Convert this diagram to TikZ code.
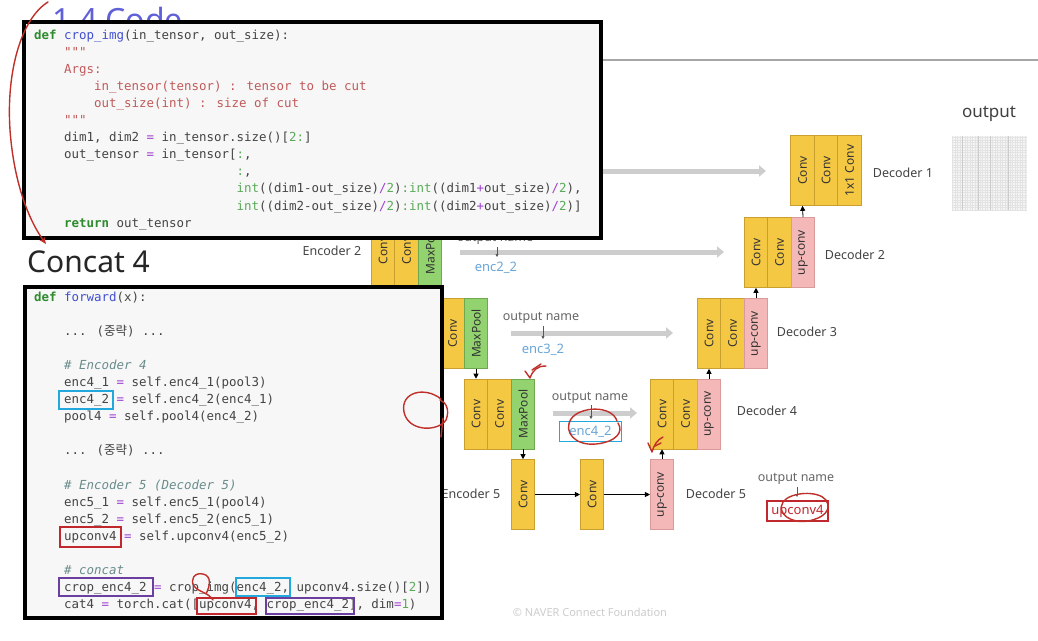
\documentclass[tikz,border=0pt]{standalone}
\usepackage{fontspec}
\usepackage{graphicx}
\setmainfont{Noto Sans}
\newfontfamily\codefont{DejaVu Sans Mono}
\newfontfamily\krfont{Noto Sans CJK KR}
\usetikzlibrary{arrows.meta}
\definecolor{kwc}{HTML}{2E8B2E}
\definecolor{fnc}{HTML}{3F4FD0}
\definecolor{stc}{HTML}{C05A5A}
\definecolor{nmc}{HTML}{5AAA5A}
\definecolor{opc}{HTML}{A040D0}
\definecolor{cmc}{HTML}{6A8C8C}
\definecolor{codetx}{HTML}{444444}
\definecolor{yel}{HTML}{F5C843}
\definecolor{ybd}{HTML}{C9A030}
\definecolor{grn}{HTML}{93D36F}
\definecolor{gbd}{HTML}{6FA84F}
\definecolor{pnk}{HTML}{F4B8B8}
\definecolor{pbd}{HTML}{D99A9A}
\definecolor{skipc}{HTML}{CDCDCD}
\definecolor{lbl}{HTML}{444444}
\definecolor{bluet}{HTML}{6AA6D8}
\definecolor{hcyan}{HTML}{22A8DC}
\definecolor{hred}{HTML}{C0282E}
\definecolor{hpur}{HTML}{6A3FA0}
\definecolor{penred}{HTML}{C0302A}
\definecolor{titlec}{HTML}{6060D8}
\newcommand\cdkw[1]{\textcolor{kwc}{\bfseries #1}}
\newcommand\cdfn[1]{\textcolor{fnc}{#1}}
\newcommand\cdst[1]{\textcolor{stc}{#1}}
\newcommand\cdnm[1]{\textcolor{nmc}{#1}}
\newcommand\cdbi[1]{\textcolor{nmc}{#1}}
\newcommand\cdop[1]{\textcolor{opc}{#1}}
\newcommand\cdcm[1]{\textcolor{cmc}{\itshape #1}}
\newcommand\vtxt[1]{\rotatebox{90}{#1}}
\tikzset{
  codetxt/.style={anchor=base west, inner sep=0pt, text=codetx, font=\codefont\fontsize{12.45}{14}\selectfont},
  codebox/.style={draw=black, line width=3.5pt, fill=white!97!black},
  yb/.style={draw=ybd, fill=yel, line width=0.6pt, minimum width=23.5pt, minimum height=70pt, inner sep=0pt, text=black!80, font=\fontsize{12}{14}\selectfont},
  gb/.style={yb, draw=gbd, fill=grn},
  pb/.style={yb, draw=pbd, fill=pnk},
  lab/.style={inner sep=0pt, text=lbl, font=\fontsize{12.5}{14}\selectfont},
  oname/.style={inner sep=0pt, text=black!60, font=\fontsize{12.5}{14}\selectfont},
  encname/.style={inner sep=0pt, text=bluet, font=\fontsize{13}{14}\selectfont},
  skiparr/.style={draw=skipc, line width=5pt, -{Triangle[width=11pt,length=7pt]}},
  blkarr/.style={draw=black, line width=0.8pt, -{Triangle[width=5pt,length=5pt]}},
  tick/.style={draw=black!65, line width=0.6pt, -{Triangle[width=3pt,length=3pt]}},
  hbox/.style={line width=1.6pt},
  redpen/.style={draw=penred, line width=1.4pt, line cap=round, line join=round},
}
\begin{document}
\begin{tikzpicture}[x=1pt,y=-1pt]
\useasboundingbox (0,0) rectangle (1038,640);
\fill[white] (0,0) rectangle (1038,640);
% header line and title
\draw[black!35, line width=1.2pt] (590,60) -- (1038,60);
\node[anchor=base west, inner sep=0pt, text=titlec, font=\fontsize{32}{36}\selectfont] (title) at (52,31) {1.4 Code};

% skip connections
\coordinate (s1a) at (590,171); \coordinate (s1b) at (766,171);
\coordinate (s2a) at (460,252); \coordinate (s2b) at (724,252);
\coordinate (s3a) at (511,333); \coordinate (s3b) at (673,333);
\coordinate (s4a) at (553,413); \coordinate (s4b) at (637,413);
\draw[skiparr] (s1a) -- (s1b);
\draw[skiparr] (s2a) -- (s2b);
\draw[skiparr] (s3a) -- (s3b);
\draw[skiparr] (s4a) -- (s4b);

% encoder 2
\node[yb] (e2a) at (383,250) {\vtxt{Conv}};
\node[yb] (e2b) at (406.5,250) {\vtxt{Conv}};
\node[gb] (e2c) at (430,250) {\vtxt{MaxPool}};
% encoder 3
\node[yb] (e3a) at (429,333.5) {\vtxt{Conv}};
\node[yb] (e3b) at (452.5,333.5) {\vtxt{Conv}};
\node[gb] (e3c) at (476,333.5) {\vtxt{MaxPool}};
% encoder 4
\node[yb] (e4a) at (476,414) {\vtxt{Conv}};
\node[yb] (e4b) at (499.5,414) {\vtxt{Conv}};
\node[gb] (e4c) at (523,414) {\vtxt{MaxPool}};
% encoder 5
\node[yb] (e5a) at (523,494.5) {\vtxt{Conv}};
\node[yb] (e5b) at (592,494.5) {\vtxt{Conv}};
\node[pb] (e5u) at (662,494.5) {\vtxt{up-conv}};
% decoder 4
\node[yb] (d4a) at (662,414) {\vtxt{Conv}};
\node[yb] (d4b) at (685.5,414) {\vtxt{Conv}};
\node[pb] (d4u) at (709,414) {\vtxt{up-conv}};
% decoder 3
\node[yb] (d3a) at (709,333.5) {\vtxt{Conv}};
\node[yb] (d3b) at (732.5,333.5) {\vtxt{Conv}};
\node[pb] (d3u) at (756,333.5) {\vtxt{up-conv}};
% decoder 2
\node[yb] (d2a) at (756,252.5) {\vtxt{Conv}};
\node[yb] (d2b) at (779.5,252.5) {\vtxt{Conv}};
\node[pb] (d2u) at (803,252.5) {\vtxt{up-conv}};
% decoder 1
\node[yb] (d1a) at (802.5,170.5) {\vtxt{Conv}};
\node[yb] (d1b) at (826,170.5) {\vtxt{Conv}};
\node[yb] (d1c) at (849.5,170.5) {\vtxt{1x1 Conv}};

% block arrows
\draw[blkarr] (e2c.south) -- (e3a.north);
\draw[blkarr] (e3c.south) -- (e4a.north);
\draw[blkarr] (e4c.south) -- (e5a.north);
\draw[blkarr] (e5a.east) -- (e5b.west);
\draw[blkarr] (e5b.east) -- (e5u.west);
\draw[blkarr] (e5u.north) -- (d4a.south);
\draw[blkarr] (d4u.north) -- (d3a.south);
\draw[blkarr] (d3u.north) -- (d2a.south);
\draw[blkarr] (d2u.north) -- (d1a.south);

% labels
\node[lab] (l_e2) at (332,251) {Encoder 2};
\node[lab] (l_e5) at (471,494) {Encoder 5};
\node[lab] (l_d5) at (716,494) {Decoder 5};
\node[lab] (l_d4) at (767,411) {Decoder 4};
\node[lab] (l_d3) at (807,332) {Decoder 3};
\node[lab] (l_d2) at (855,255) {Decoder 2};
\node[lab] (l_d1) at (903,173) {Decoder 1};
\node[inner sep=0pt, text=black!75, font=\fontsize{17}{20}\selectfont] (l_out) at (989,114) {output};

% output names
\node[oname] (on2) at (495,239) {output name};
\node[oname] (on3) at (541,318) {output name};
\node[oname] (on4) at (590,398) {output name};
\node[oname] (on5) at (796,479) {output name};
\coordinate (t2a) at (497,247); \coordinate (t2b) at (497,257);
\coordinate (t3a) at (543,326); \coordinate (t3b) at (543,339);
\coordinate (t4a) at (591,405); \coordinate (t4b) at (591,419);
\coordinate (t5a) at (797,487); \coordinate (t5b) at (797,497);
\draw[tick] (t2a) -- (t2b);
\draw[tick] (t3a) -- (t3b);
\draw[tick] (t4a) -- (t4b);
\draw[tick] (t5a) -- (t5b);
\node[encname] (n2) at (496,268) {enc2\_2};
\node[encname] (n3) at (543,350) {enc3\_2};
\node[encname] (n4) at (590.5,431.5) {enc4\_2};
\draw[hbox, hcyan] (559.5,421.5) rectangle (621.5,441.5);
\node[encname, text=hred] (n5) at (797.5,511) {upconv4};
\draw[hbox, hred] (767,501) rectangle (828,521);

% output grid
\fill[black!4] (952,136) rectangle (1027,210);
\draw[black!11, line width=0.25pt, step=2.5pt] (952,136) grid (1027,210);
\foreach \gx in {962,978,990,1008}{\draw[black!20, line width=0.4pt] (\gx,136) -- (\gx,210);}
\node[inner sep=0pt, text=black!20, font=\fontsize{11}{13}\selectfont] (naver) at (590,612) {\textcopyright{} NAVER Connect Foundation};

% top code box
\fill[black!30] (26,24) rectangle (603,240);
\draw[codebox] (24,22) rectangle (601,238);
\node[codetxt] (c1) at (34,39) {\cdkw{def} \cdfn{crop\_img}(in\_tensor, out\_size):};
\node[codetxt] (c2) at (64,56.1) {\cdst{"""}};
\node[codetxt] (c3) at (64,73.2) {\cdst{Args:}};
\node[codetxt] (c4) at (94,90.3) {\cdst{in\_tensor(tensor) : tensor to be cut}};
\node[codetxt] (c5) at (94,107.4) {\cdst{out\_size(int) : size of cut}};
\node[codetxt] (c6) at (64,124.5) {\cdst{"""}};
\node[codetxt] (c7) at (64,141.6) {dim1, dim2 \cdop{=} in\_tensor.size()[\cdnm{2:}]};
\node[codetxt] (c8) at (64,158.7) {out\_tensor \cdop{=} in\_tensor[\cdnm{:},};
\node[codetxt] (c9) at (236.5,175.8) {\cdnm{:},};
\node[codetxt] (c10) at (236.5,192.9) {\cdbi{int}((dim1-out\_size)\cdop{/}\cdnm{2})\cdnm{:}\cdbi{int}((dim1\cdop{+}out\_size)\cdop{/}\cdnm{2}),};
\node[codetxt] (c11) at (236.5,210) {\cdbi{int}((dim2-out\_size)\cdop{/}\cdnm{2})\cdnm{:}\cdbi{int}((dim2\cdop{+}out\_size)\cdop{/}\cdnm{2})]};
\node[codetxt] (c12) at (64,227.1) {\cdkw{return} out\_tensor};

% Concat 4
\node[anchor=base west, inner sep=0pt, text=black!85, font=\fontsize{30}{34}\selectfont] (concat) at (27,272) {Concat 4};

% bottom code box
\fill[black!30] (27,289) rectangle (444,620);
\draw[codebox] (25,287) rectangle (442,618);
\node[codetxt] (f0) at (34,301) {\cdkw{def} \cdfn{forward}(x):};
\node[codetxt] (f2) at (64,335.2) {... ({\krfont 중략}) ...};
\node[codetxt] (f4) at (64,369.4) {\cdcm{\# Encoder 4}};
\node[codetxt] (f5) at (64,386.5) {enc4\_1 \cdop{=} self.enc4\_1(pool3)};
\node[codetxt] (f6) at (64,403.6) {enc4\_2 \cdop{=} self.enc4\_2(enc4\_1)};
\node[codetxt] (f7) at (64,420.7) {pool4 \cdop{=} self.pool4(enc4\_2)};
\node[codetxt] (f9) at (64,454.9) {... ({\krfont 중략}) ...};
\node[codetxt] (f11) at (64,489.1) {\cdcm{\# Encoder 5 (Decoder 5)}};
\node[codetxt] (f12) at (64,506.2) {enc5\_1 \cdop{=} self.enc5\_1(pool4)};
\node[codetxt] (f13) at (64,523.3) {enc5\_2 \cdop{=} self.enc5\_2(enc5\_1)};
\node[codetxt] (f14) at (64,540.4) {upconv4 \cdop{=} self.upconv4(enc5\_2)};
\node[codetxt] (f16) at (64,574.6) {\cdcm{\# concat}};
\node[codetxt] (f17) at (64,591.7) {crop\_enc4\_2 \cdop{=} crop\_img(enc4\_2, upconv4.size()[\cdnm{2}])};
\node[codetxt] (f18) at (64,608.8) {cat4 \cdop{=} torch.cat([upconv4, crop\_enc4\_2], dim\cdop{=}\cdnm{1})};

% highlight boxes in code
\draw[hbox, hcyan] (59,391) rectangle (113,409);
\draw[hbox, hred] (60,527) rectangle (121,547);
\draw[hbox, hpur] (59,578) rectangle (153,596);
\draw[hbox, hcyan] (236,578) rectangle (290,596);
\draw[hbox, hred] (197,598) rectangle (256,614);
\draw[hbox, hpur] (266,598) rectangle (354,614);

% red pen annotations
\draw[redpen, -{Stealth[length=7pt,width=6pt]}] (48,2) .. controls (22,18) and (6,70) .. (10,130) .. controls (14,185) and (30,222) .. (46,244);
\draw[redpen] (441,399) .. controls (425,386) and (400,392) .. (404,412) .. controls (408,432) and (438,432) .. (446,420) .. controls (450,410) and (446,402) .. (440,400);
\draw[redpen] (443,418) -- (441,437);
\draw[redpen] (525,371) -- (530,378) .. controls (533,370) and (537,366) .. (546,366);
\draw[redpen] (532,370) -- (541,364);
\draw[redpen] (648,443) -- (652,452) .. controls (654,445) and (657,440) .. (663,437);
\draw[redpen] (655,446) -- (661,443);
\draw[redpen] (617,421) .. controls (612,405) and (580,406) .. (571,419) .. controls (563,432) and (575,446) .. (596,444) .. controls (616,442) and (624,432) .. (618,423);
\draw[redpen] (826,500) .. controls (818,490) and (790,492) .. (783,502) .. controls (776,514) and (792,524) .. (808,521) .. controls (824,518) and (832,510) .. (826,500);
\draw[redpen] (206,594) .. controls (210,586) and (212,576) .. (203,574) .. controls (194,572) and (190,580) .. (194,586) .. controls (198,592) and (208,592) .. (213,600);
\end{tikzpicture}
\end{document}
